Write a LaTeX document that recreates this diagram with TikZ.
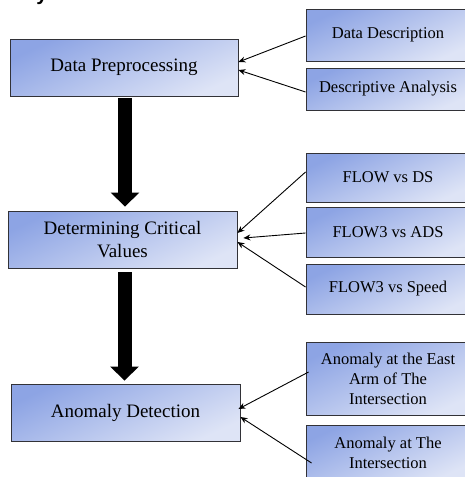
\documentclass[tikz,border=0pt]{standalone}
\usepackage{fontspec}
\setmainfont{Liberation Serif}
\setsansfont{Liberation Sans}
\usetikzlibrary{arrows.meta,calc}
\definecolor{boxtop}{RGB}{141,164,228}
\definecolor{boxbot}{RGB}{222,228,246}
\definecolor{edge}{RGB}{50,50,55}
\begin{document}
\begin{tikzpicture}[x=1pt,y=-1pt,
  stage/.style={draw=edge, line width=0.9pt, top color=boxtop, bottom color=boxbot,
    shading angle=25, align=center, inner sep=2pt,
    font=\fontsize{19}{23}\selectfont},
  item/.style={stage, minimum width=164pt, font=\fontsize{16.5}{20}\selectfont},
  link/.style={draw=black, line width=0.9pt, -{Stealth[length=7pt,width=6pt]}},
  flow/.style={line width=14pt, -{Triangle[length=14pt,width=28pt]}}]
\useasboundingbox (0,0) rectangle (465,477);

% descender of the heading line above
\node[font=\sffamily\bfseries\fontsize{20}{20}\selectfont, anchor=base, inner sep=0pt] (head) at (42,0) {y};

% main stages
\node[stage, minimum width=228pt, minimum height=57pt] (pre)  at (124,67.5)   {Data Preprocessing};
\node[stage, minimum width=229pt, minimum height=57pt] (crit) at (122.5,239.5) {Determining Critical\\Values};
\node[stage, minimum width=229pt, minimum height=57pt] (anom) at (125.5,412.5) {Anomaly Detection};

% inputs of each stage
\node[item, minimum height=52pt] (desc)  at (388,35)    {Data Description};
\node[item, minimum height=42pt] (ana)   at (388,89)    {Descriptive Analysis};
\node[item, minimum height=49pt] (ds)    at (388,177.5) {FLOW vs DS};
\node[item, minimum height=50pt] (ads)   at (388,232)   {FLOW3 vs ADS};
\node[item, minimum height=50pt] (spd)   at (388,289)   {FLOW3 vs Speed};
\node[item, minimum height=73pt] (east)  at (388,378.5) {Anomaly at the East\\Arm of The\\Intersection};
\node[item, minimum height=55pt] (inter) at (388,452.5) {Anomaly at The\\Intersection};

% thin connectors
\draw[link] ([yshift=-1pt]desc.west) -- ([yshift=5.5pt]pre.east);
\draw[link] ([yshift=-3pt]ana.west) -- ([yshift=-2.5pt]pre.east);
\draw[link] ([yshift=5.5pt]ds.west) -- ([yshift=6.5pt]crit.east);
\draw[link] ([yshift=-1pt]ads.west) -- ([xshift=6pt,yshift=1.5pt]crit.east);
\draw[link] ([yshift=2pt]spd.west) -- ([yshift=-2.5pt]crit.east);
\draw[link] ([xshift=3pt,yshift=6.5pt]east.west) -- ([xshift=-2pt,yshift=3.5pt]anom.east);
\draw[link] ([xshift=6pt,yshift=-10.5pt]inter.west) -- ([yshift=-4.5pt]anom.east);

% block arrows between stages
\draw[flow] ($(pre.south)+(1,2)$) -- ($(pre.south |- crit.north)+(1,-4)$);
\draw[flow] ($(crit.south)+(2,4)$) -- ($(crit.south |- anom.north)+(2,-3)$);
\end{tikzpicture}
\end{document}
